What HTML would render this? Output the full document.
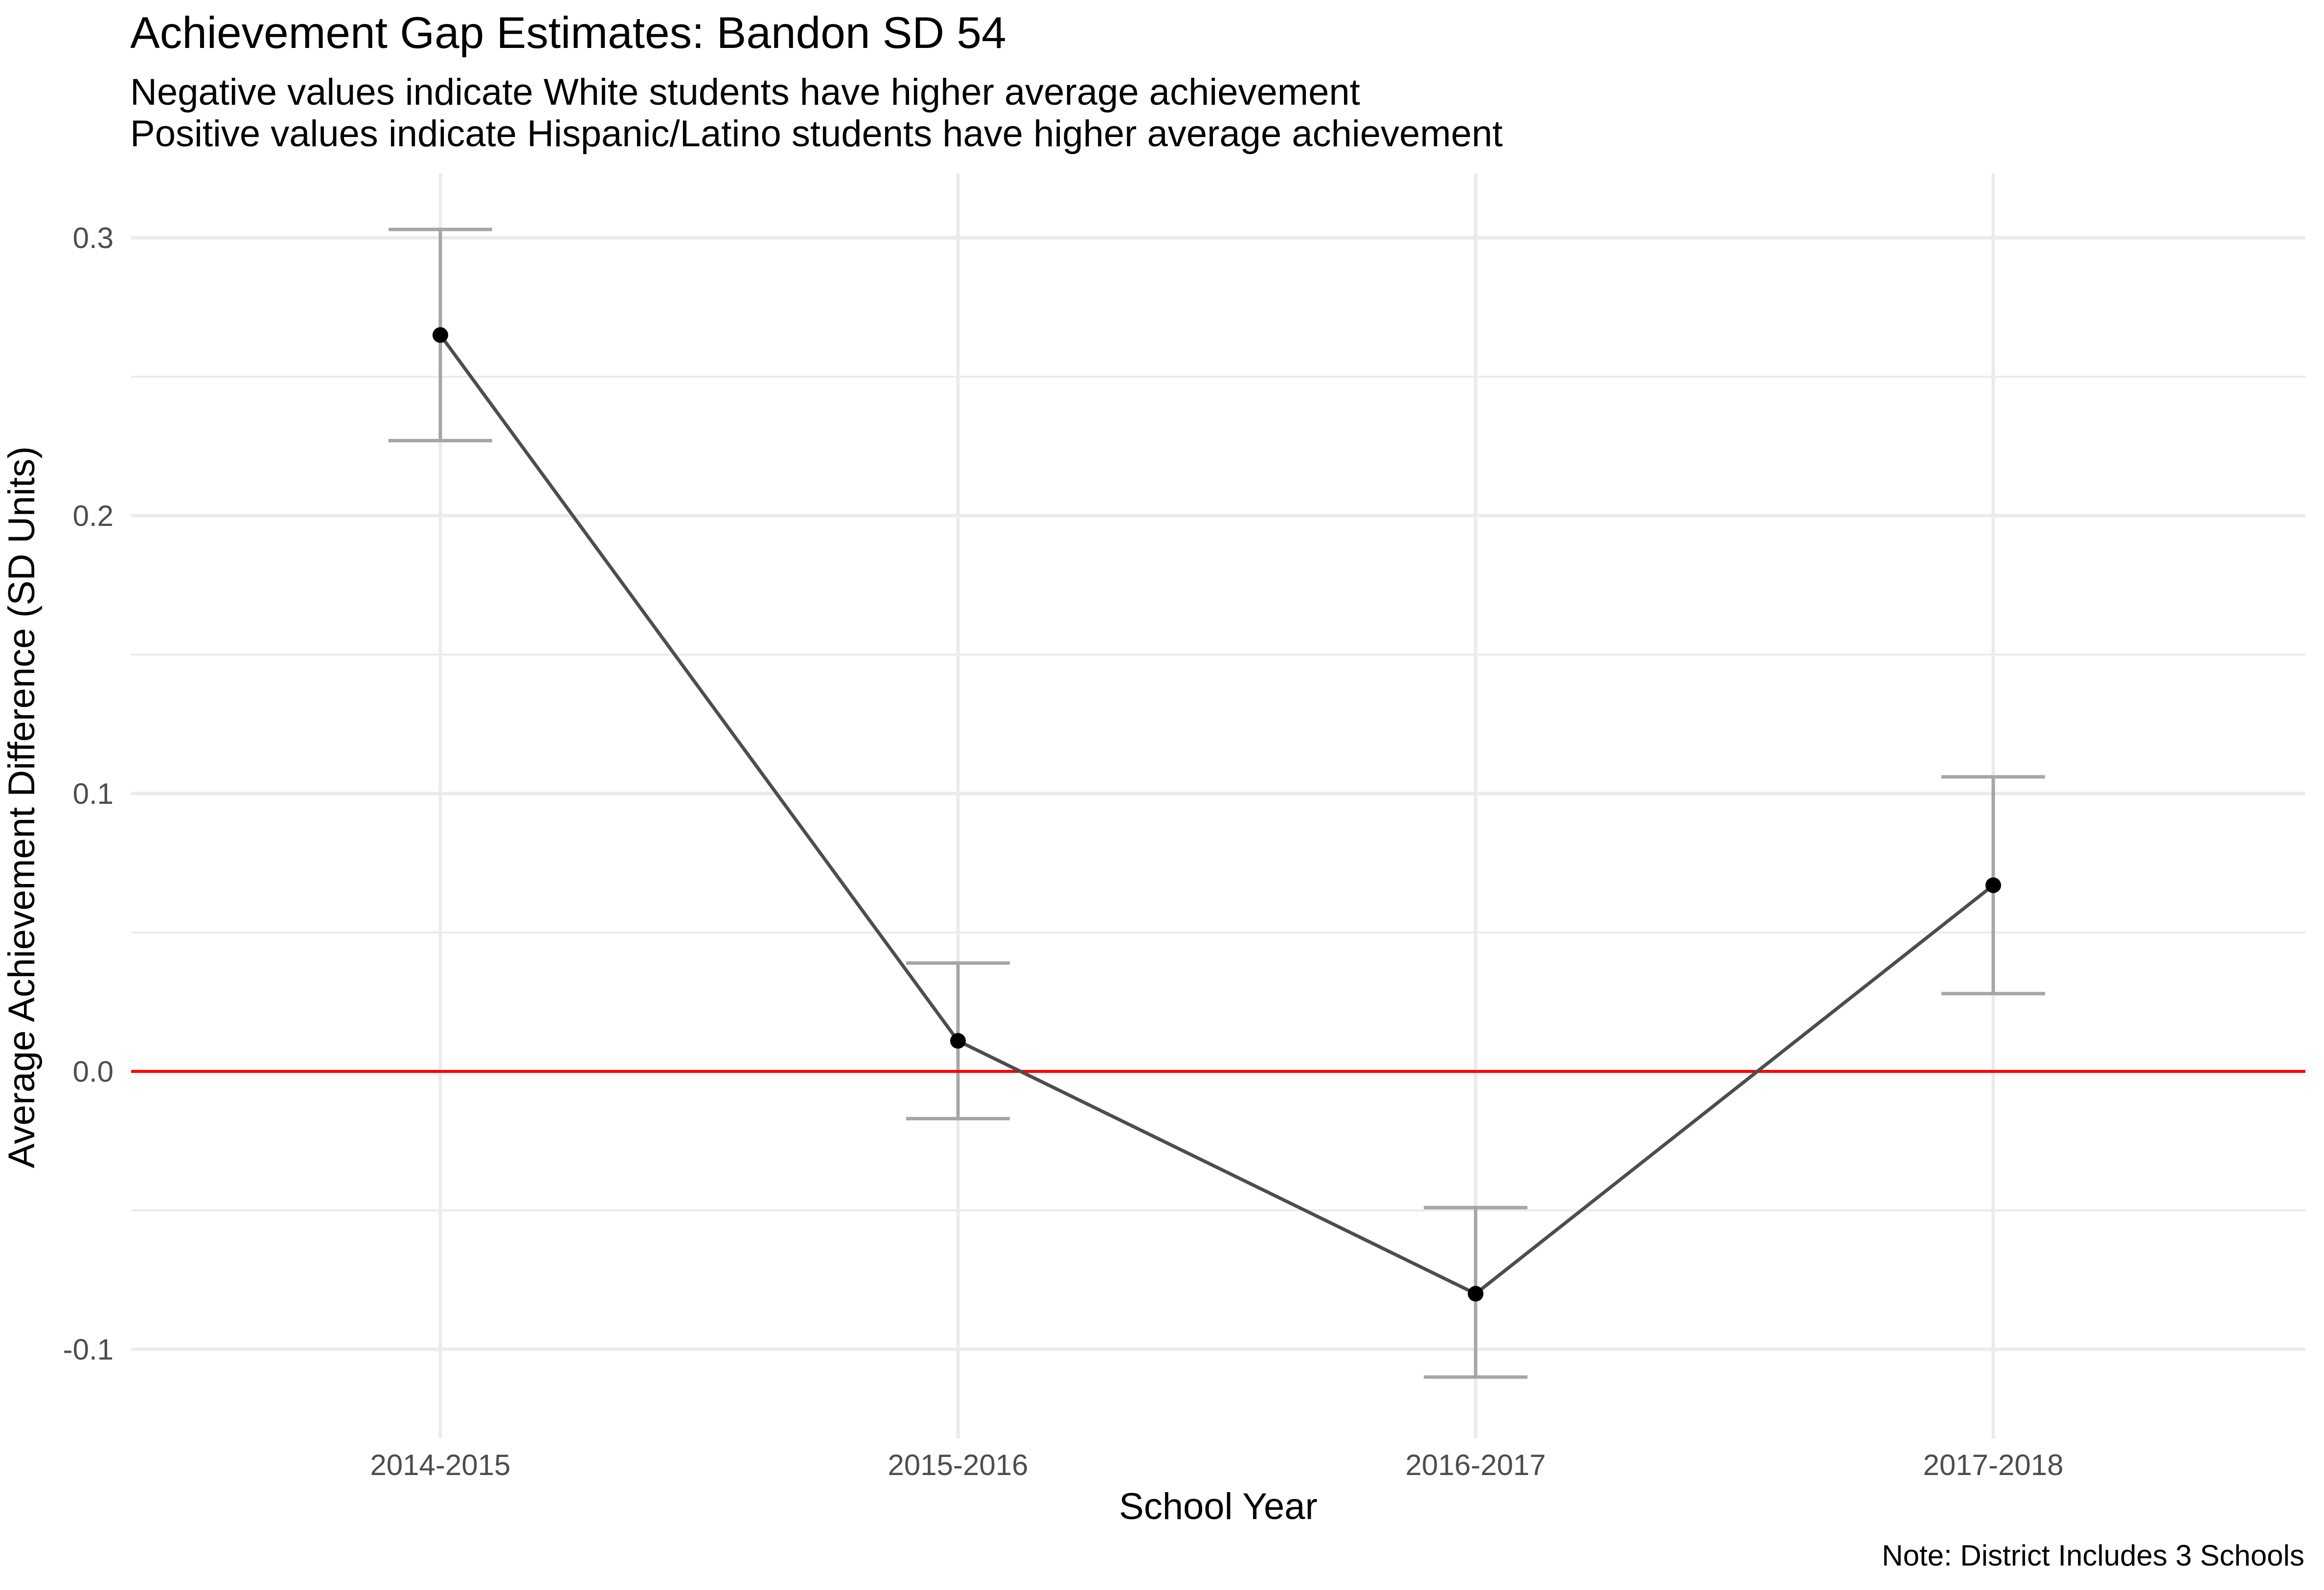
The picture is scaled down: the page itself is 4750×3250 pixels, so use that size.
<!DOCTYPE html>
<html><head><meta charset="utf-8"><style>
html,body{margin:0;padding:0;background:#fff;}
svg{display:block;font-family:"Liberation Sans",Arial,sans-serif;}
</style></head><body>
<svg id="chart" width="4750" height="3250" viewBox="0 0 4750 3250">
<text x="266" y="98" font-size="91" fill="#000">Achievement Gap Estimates: Bandon SD 54</text>
<text x="266" y="214" font-size="76" fill="#000">Negative values indicate White students have higher average achievement</text>
<text x="266" y="299" font-size="76" fill="#000">Positive values indicate Hispanic/Latino students have higher average achievement</text>
<g id="grid"></g>
<g id="yticks"></g>
<g id="xticks"></g>
<g id="marks"></g>
<text x="2490" y="3105" font-size="76" text-anchor="middle" fill="#000">School Year</text>
<text transform="translate(70,1650) rotate(-90)" font-size="76" text-anchor="middle" fill="#000">Average Achievement Difference (SD Units)</text>
<text x="4710" y="3200" font-size="60" text-anchor="end" fill="#000">Note: District Includes 3 Schools</text>
</svg>
<script>
const categories = ["2014-2015","2015-2016","2016-2017","2017-2018"];
const estimates = [0.265, 0.011, -0.080, 0.067];
const lowerCI = [0.227, -0.017, -0.110, 0.028];
const upperCI = [0.303, 0.039, -0.049, 0.106];
const yTicks = [-0.1, 0.0, 0.1, 0.2, 0.3];
const yMinor = [-0.05, 0.05, 0.15, 0.25];

const NS = "http://www.w3.org/2000/svg";
const panelL = 268, panelR = 4712, panelT = 354, panelB = 2940;
function yScale(v){ return 2190 - v * 5680; }
function xScale(i){ return 900 + i * 1058; }
function mk(tag, attrs, parent){
  const e = document.createElementNS(NS, tag);
  for (const k in attrs) e.setAttribute(k, attrs[k]);
  parent.appendChild(e); return e;
}
const grid = document.getElementById('grid');
const yt = document.getElementById('yticks');
const xt = document.getElementById('xticks');
const marks = document.getElementById('marks');

yMinor.forEach(v=>{
  const l = mk('line',{x1:panelL,x2:panelR,y1:yScale(v),y2:yScale(v),stroke:'#EBEBEB','stroke-width':4},grid);
  
  
});
yTicks.forEach(v=>{
  const l = mk('line',{x1:panelL,x2:panelR,y1:yScale(v),y2:yScale(v),stroke:'#EBEBEB','stroke-width':7},grid);
  
  
  const t = mk('text',{x:232,y:yScale(v)+21,'font-size':60,'text-anchor':'end',fill:'#4D4D4D'},yt);
  t.textContent = v.toFixed(1);
  
  
});
categories.forEach((c,i)=>{
  const l = mk('line',{x1:xScale(i),x2:xScale(i),y1:panelT,y2:panelB,stroke:'#EBEBEB','stroke-width':7},grid);
  
  
  const t = mk('text',{x:xScale(i),y:3015,'font-size':60,'text-anchor':'middle',fill:'#4D4D4D'},xt);
  t.textContent = c;
  
  
});
categories.forEach((c,i)=>{
  const g = mk('g',{stroke:'#A6A6A6','stroke-width':7,fill:'none'},marks);
  
  
  const x = xScale(i), yl = yScale(lowerCI[i]), yu = yScale(upperCI[i]);
  mk('line',{x1:x,x2:x,y1:yu,y2:yl},g);
  mk('line',{x1:x-106,x2:x+106,y1:yu,y2:yu},g);
  mk('line',{x1:x-106,x2:x+106,y1:yl,y2:yl},g);
});
const z = mk('line',{x1:panelL,x2:panelR,y1:yScale(0),y2:yScale(0),stroke:'#FF0000','stroke-width':6},marks);


const pts = estimates.map((v,i)=>xScale(i)+','+yScale(v)).join(' ');
const pl = mk('polyline',{points:pts,fill:'none',stroke:'#4D4D4D','stroke-width':7},marks);


estimates.forEach((v,i)=>{
  const p = mk('circle',{cx:xScale(i),cy:yScale(v),r:16,fill:'#000'},marks);
  
  
});
</script>
</body></html>
